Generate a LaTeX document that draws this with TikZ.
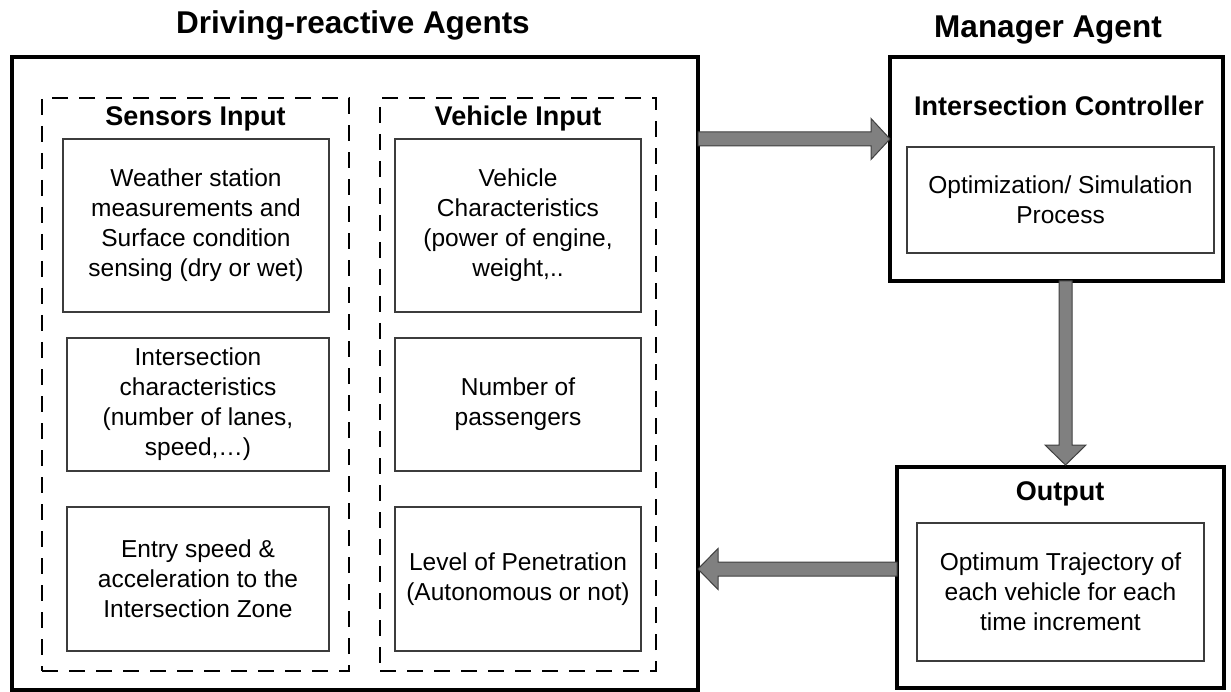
\documentclass[tikz,border=0pt]{standalone}
\usepackage{fontspec}
\setmainfont{Liberation Sans}
\usetikzlibrary{calc}
\definecolor{arrfill}{RGB}{128,128,128}
\definecolor{arrdraw}{RGB}{64,64,64}
\definecolor{iboxline}{RGB}{60,60,60}
\tikzset{
  bigbox/.style={draw, line width=4pt, inner sep=0pt, outer sep=0pt},
  dbox/.style={draw, line width=2.8pt, dash pattern=on 16pt off 11pt, inner sep=0pt, outer sep=0pt},
  ibox/.style={draw=iboxline, line width=1.2pt, inner sep=0pt, outer sep=0pt, align=center,
    font=\fontsize{24.5}{30}\selectfont},
  headtxt/.style={font=\bfseries\fontsize{27}{32}\selectfont, anchor=base, inner sep=0pt},
  titletxt/.style={font=\bfseries\fontsize{31.5}{36}\selectfont, anchor=base, inner sep=0pt},
  blockarrow/.style={fill=arrfill, draw=arrdraw, line width=1pt, line join=miter}
}
\begin{document}
\begin{tikzpicture}[x=1pt,y=-1pt]
\useasboundingbox (0,0) rectangle (1231,692);

% titles
\node[titletxt] (t1) at (353,34) {Driving-reactive Agents};
\node[titletxt] (t2) at (1048,38) {Manager Agent};

% big boxes
\node[bigbox, minimum width=686pt, minimum height=632.5pt] (big) at (355,373.25) {};
\node[bigbox, minimum width=333pt, minimum height=224pt] (mgr) at (1056.5,169) {};
\node[bigbox, minimum width=327pt, minimum height=221pt] (out) at (1060.5,577.5) {};

% dashed groups
\node[dbox, minimum width=307pt, minimum height=573pt] (sens) at (195.5,384.5) {};
\node[dbox, minimum width=276pt, minimum height=573pt] (veh) at (518,384.5) {};

% headings
\node[headtxt] (hs) at (195.5,126) {Sensors Input};
\node[headtxt] (hv) at (518,126) {Vehicle Input};
\node[headtxt] (hc) at (1059,116) {Intersection Controller};
\node[headtxt] (ho) at (1060,500) {Output};

% inner boxes
\node[ibox, minimum width=266pt, minimum height=173pt] (w) at (196,225.5)
  {Weather station\\measurements and\\Surface condition\\sensing (dry or wet)};
\node[ibox, minimum width=262pt, minimum height=133pt] (ic) at (198,404.5)
  {Intersection\\characteristics\\(number of lanes,\\speed,…)};
\node[ibox, minimum width=262pt, minimum height=144pt] (es) at (198,579)
  {Entry speed \&\\acceleration to the\\Intersection Zone};
\node[ibox, minimum width=246pt, minimum height=173pt] (vc) at (518,225.5)
  {Vehicle\\Characteristics\\(power of engine,\\weight,..};
\node[ibox, minimum width=246pt, minimum height=133pt] (np) at (518,404.5)
  {Number of\\passengers};
\node[ibox, minimum width=246pt, minimum height=144pt] (lp) at (518,579)
  {Level of Penetration\\(Autonomous or not)};
\node[ibox, minimum width=307pt, minimum height=106pt] (opt) at (1060.5,200)
  {Optimization/ Simulation\\Process};
\node[ibox, minimum width=287pt, minimum height=138pt] (traj) at (1060.5,592)
  {Optimum Trajectory of\\each vehicle for each\\time increment};

% arrows
\coordinate (ry) at (0,139);
\coordinate (dx) at (1065.5,0);
\coordinate (ly) at (0,569);

\draw[blockarrow] ($(big.east |- ry)+(0,-7)$) -- ($(mgr.west |- ry)+(-19,-7)$)
  -- ($(mgr.west |- ry)+(-19,-20.5)$) -- (mgr.west |- ry)
  -- ($(mgr.west |- ry)+(-19,20.5)$) -- ($(mgr.west |- ry)+(-19,7)$)
  -- ($(big.east |- ry)+(0,7)$) -- cycle;

\draw[blockarrow] ($(mgr.south -| dx)+(-6.5,0)$) -- ($(out.north -| dx)+(-6.5,-22)$)
  -- ($(out.north -| dx)+(-20.5,-22)$) -- ($(out.north -| dx)+(0,-2)$)
  -- ($(out.north -| dx)+(20.5,-22)$) -- ($(out.north -| dx)+(6.5,-22)$)
  -- ($(mgr.south -| dx)+(6.5,0)$) -- cycle;

\draw[blockarrow] ($(out.west |- ly)+(0,-7)$) -- ($(big.east |- ly)+(20,-7)$)
  -- ($(big.east |- ly)+(20,-20.5)$) -- (big.east |- ly)
  -- ($(big.east |- ly)+(20,20.5)$) -- ($(big.east |- ly)+(20,7)$)
  -- ($(out.west |- ly)+(0,7)$) -- cycle;
\end{tikzpicture}
\end{document}
